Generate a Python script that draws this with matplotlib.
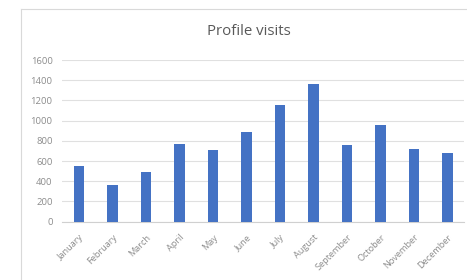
import matplotlib
matplotlib.use("Agg")
import matplotlib.pyplot as plt
from matplotlib.lines import Line2D

months = ["January", "February", "March", "April", "May", "June", "July",
          "August", "September", "October", "November", "December"]
visits = [555, 360, 490, 765, 705, 890, 1155, 1360, 755, 957, 720, 680]
yticks = [0, 200, 400, 600, 800, 1000, 1200, 1400, 1600]

plt.rcParams['font.family'] = ['Open Sans', 'DejaVu Sans']
fig = plt.figure(figsize=(4.67, 2.8), dpi=100)
fig.patch.set_facecolor("white")
# chart border (top and left edges visible)
bx, by = 20.5 / 467, 1 - 8.5 / 280
fig.add_artist(Line2D([bx, 1.0], [by, by], transform=fig.transFigure,
                      color="#d9d9d9", linewidth=0.8))
fig.add_artist(Line2D([bx, bx], [0.0, by], transform=fig.transFigure,
                      color="#d9d9d9", linewidth=0.8))

ax = fig.add_axes([0.1334, 0.2082, 0.861, 0.5775])
x = range(len(months))
ax.bar(x, visits, width=0.32, color="#4472C4", zorder=3)
ax.set_xlim(-0.5, len(months) - 0.5)
ax.set_ylim(0, 1600)
ax.set_yticks(yticks)
ax.set_yticklabels([str(v) for v in yticks], fontsize=6.8, color="#8c8c8c")
ax.set_xticks(list(x))
ax.set_xticklabels(months, rotation=45, ha="right", rotation_mode="anchor",
                   fontsize=6.6, color="#8c8c8c")
ax.tick_params(axis="y", length=0, pad=7)
ax.tick_params(axis="x", length=0, pad=8)
ax.grid(axis="y", color="#e0e0e0", linewidth=0.8, zorder=0)
for s in ["top", "right", "left"]:
    ax.spines[s].set_visible(False)
ax.spines["bottom"].set_color("#d0d0d0")
ax.spines["bottom"].set_linewidth(0.8)

fig.text(0.533, 0.886, "Profile visits", ha="center", va="center",
         fontsize=10.8, color="#595959")

fig.savefig("out.png", dpi=100)
